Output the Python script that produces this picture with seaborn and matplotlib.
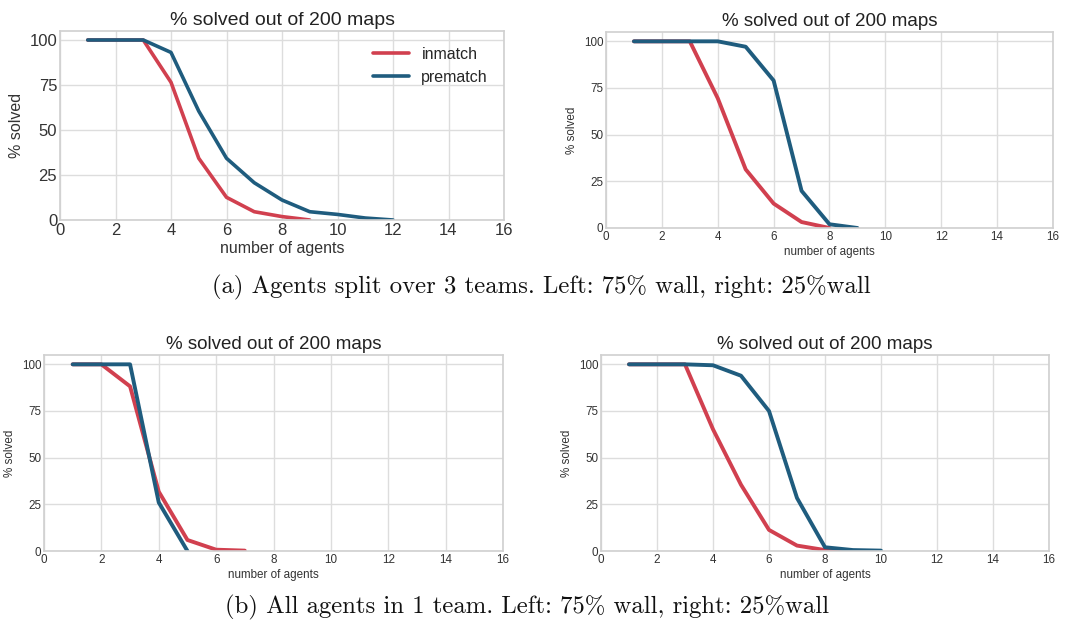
import numpy as np
import pandas as pd
import matplotlib
matplotlib.use("Agg")
import matplotlib.pyplot as plt
import seaborn as sns

# ---- data ----
x_a_left_in = [1, 2, 3, 4, 5, 6, 7, 8, 9]
y_a_left_in = [100, 100, 100, 76.5, 34.3, 12.6, 4.6, 1.9, 0]
x_a_left_pre = [1, 2, 3, 4, 5, 6, 7, 8, 9, 10, 11, 12]
y_a_left_pre = [100, 100, 100, 93.1, 60.5, 34.3, 20.7, 11.1, 4.6, 3.1, 1.1, 0]

x_a_right_in = [1, 2, 3, 4, 5, 6, 7, 8]
y_a_right_in = [100, 100, 100, 69.5, 31.4, 13.1, 3.2, 0]
x_a_right_pre = [1, 2, 3, 4, 5, 6, 7, 8, 9]
y_a_right_pre = [100, 100, 100, 100, 97.1, 79, 19.9, 2, 0]

x_b_left_in = [1, 2, 3, 4, 5, 6, 7]
y_b_left_in = [100, 100, 88.2, 31.8, 5.9, 0.7, 0.2]
x_b_left_pre = [1, 2, 3, 4, 5]
y_b_left_pre = [100, 100, 100, 26, 0]

x_b_right_in = [1, 2, 3, 4, 5, 6, 7, 8, 9]
y_b_right_in = [100, 100, 100, 65.2, 35.5, 11.3, 2.9, 0.5, 0]
x_b_right_pre = [1, 2, 3, 4, 5, 6, 7, 8, 9, 10]
y_b_right_pre = [100, 100, 100, 99.5, 93.9, 75, 28.4, 2, 0.5, 0.2]

series_names = ["inmatch", "prematch"]
title = "% solved out of 200 maps"
xlabel = "number of agents"
ylabel = "% solved"
caption_a = "(a) Agents split over 3 teams. Left: 75% wall, right: 25%wall"
caption_b = "(b) All agents in 1 team. Left: 75% wall, right: 25%wall"
xticks = [0, 2, 4, 6, 8, 10, 12, 14, 16]
yticks = [0, 25, 50, 75, 100]

palette = {"inmatch": "#d1404f", "prematch": "#1f5c7e"}

sns.set_style("whitegrid", {"grid.color": "#dddddd", "axes.edgecolor": "#d0d0d0"})
plt.rcParams["font.family"] = ["Liberation Sans", "DejaVu Sans"]

fig = plt.figure(figsize=(10.75, 6.23), dpi=100)
W, H = 1075, 623

def add_ax(l, t, r, b):
    return fig.add_axes([l / W, 1 - b / H, (r - l) / W, (b - t) / H])

def make_df(xi, yi, xp, yp):
    return pd.concat([
        pd.DataFrame({"x": xi, "y": yi, "method": series_names[0]}),
        pd.DataFrame({"x": xp, "y": yp, "method": series_names[1]}),
    ], ignore_index=True)

panels = [
    (add_ax(60, 31, 504, 220), make_df(x_a_left_in, y_a_left_in, x_a_left_pre, y_a_left_pre), 12, 11.5, 14, 2.6, True),
    (add_ax(606, 32, 1053, 228), make_df(x_a_right_in, y_a_right_in, x_a_right_pre, y_a_right_pre), 8.4, 8.4, 13.5, 2.8, False),
    (add_ax(44, 355, 503, 551), make_df(x_b_left_in, y_b_left_in, x_b_left_pre, y_b_left_pre), 8.4, 8.4, 13.5, 2.8, False),
    (add_ax(601, 355, 1049, 551), make_df(x_b_right_in, y_b_right_in, x_b_right_pre, y_b_right_pre), 8.4, 8.4, 13.5, 2.8, False),
]

for ax, df, tks, fs, tfs, lw, leg in panels:
    sns.lineplot(data=df, x="x", y="y", hue="method", palette=palette,
                 linewidth=lw, ax=ax, legend=leg, estimator=None)
    ax.set_xlim(0, 16)
    ax.set_ylim(0, 105)
    ax.set_xticks(xticks)
    ax.set_yticks(yticks)
    ax.tick_params(labelsize=tks, colors="#333333", length=0, pad=2)
    ax.set_xlabel(xlabel, fontsize=fs, color="#333333", labelpad=2)
    ax.set_ylabel(ylabel, fontsize=fs, color="#333333", labelpad=4)
    ax.set_title(title, fontsize=tfs, color="#222222", pad=4)
    for s in ax.spines.values():
        s.set_color("#d0d0d0")
        s.set_linewidth(1.2)
    ax.grid(True, color="#dddddd", linewidth=1.0)
    if leg:
        lg = ax.legend(loc="upper right", fontsize=fs, frameon=False,
                       handlelength=2.2, borderaxespad=0.6)
        for h in lg.get_lines():
            h.set_linewidth(lw)

fig.text(541 / W, 1 - 287 / H, caption_a, ha="center", va="center",
         fontsize=17.8, fontfamily="cmr10", color="#111111")
fig.text(527 / W, 1 - 607 / H, caption_b, ha="center", va="center",
         fontsize=17.8, fontfamily="cmr10", color="#111111")

fig.savefig("out.png", dpi=100)
